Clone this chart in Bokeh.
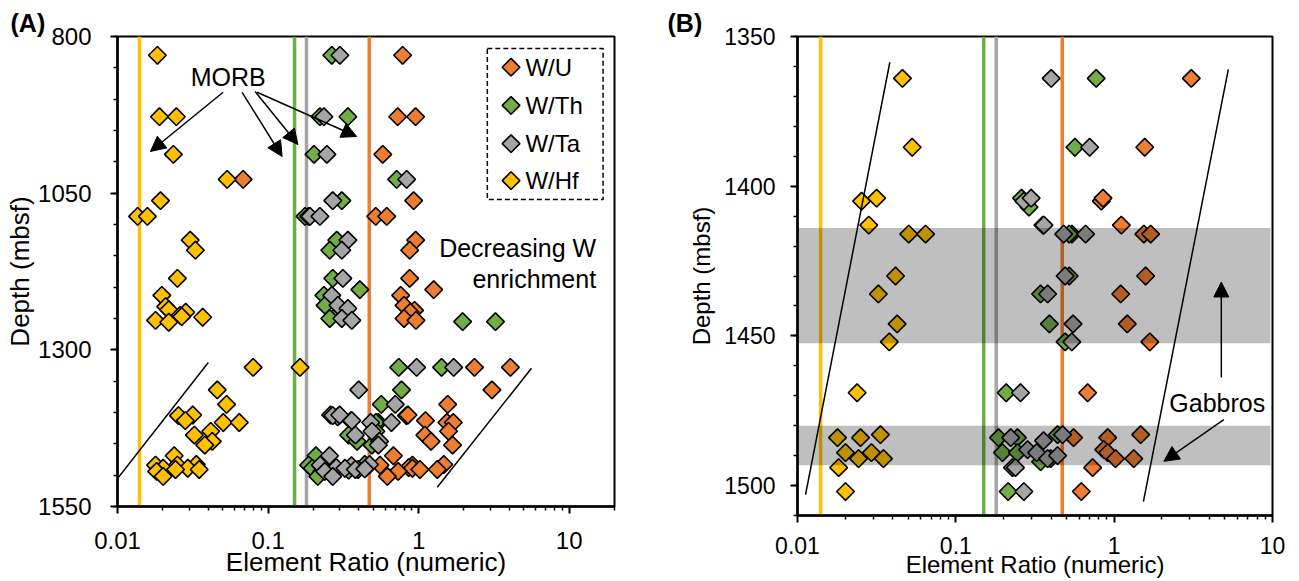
import math
from bokeh.plotting import figure
from bokeh.models import (Range1d, FixedTicker, CustomJSTickFormatter, Span, BoxAnnotation,
                          Label, Arrow, NormalHead, ColumnDataSource, Title)
from bokeh.layouts import row
from bokeh.embed import file_html
from bokeh.resources import INLINE

# ---------------- data ----------------
series_names = ["W/U", "W/Th", "W/Ta", "W/Hf"]

u_depth = [830, 928, 928, 988, 1028, 1062, 1087, 1087, 1125, 1141, 1186, 1204, 1213, 1229, 1237, 1240,
           1250, 1253, 1328, 1328, 1364, 1387, 1405, 1404, 1413, 1416, 1416, 1430, 1436, 1446, 1452,
           1469, 1484, 1484, 1483, 1488, 1489, 1491, 1491, 1494, 1502]
u_ratio = [0.783, 0.726, 0.955, 0.578, 0.0683, 0.927, 0.519, 0.614, 0.955, 0.872, 0.872, 1.26, 0.76, 0.80,
           0.94, 0.88, 0.80, 0.96, 2.35, 4.07, 3.07, 1.56, 0.83, 0.85, 1.11, 1.54, 1.70, 1.58, 1.10, 1.21,
           1.68, 0.68, 0.554, 0.910, 1.47, 0.859, 0.910, 1.02, 1.33, 0.731, 0.62]

th_depth = [830, 928, 928, 988, 1028, 1062, 1087, 1087, 1125, 1141, 1186, 1204, 1213, 1229, 1240, 1250,
            1255, 1255, 1328, 1328, 1364, 1387, 1407, 1404, 1413, 1416, 1416, 1430, 1436, 1446, 1452,
            1469, 1484, 1484, 1483, 1489, 1489, 1492, 1491, 1494, 1502]
th_ratio = [0.265, 0.221, 0.339, 0.202, 0.715, 0.309, 0.176, 0.186, 0.286, 0.257, 0.269, 0.407, 0.235,
            0.239, 0.30, 0.257, 1.96, 3.24, 0.738, 1.42, 0.77, 0.565, 0.29, 0.26, 0.355, 0.54, 0.52, 0.52,
            0.343, 0.39, 0.49, 0.208, 0.186, 0.245, 0.439, 0.197, 0.245, 0.343, 0.397, 0.228, 0.214]

ta_depth = [830, 928, 988, 1028, 1062, 1087, 1087, 1125, 1141, 1186, 1213, 1229, 1234, 1250, 1253, 1328,
            1328, 1364, 1387, 1405, 1404, 1413, 1416, 1416, 1430, 1436, 1446, 1452, 1469, 1484, 1485,
            1483, 1488, 1489, 1491, 1490, 1494, 1502]
ta_ratio = [0.300, 0.235, 0.246, 0.833, 0.269, 0.190, 0.221, 0.339, 0.309, 0.314, 0.265, 0.291, 0.339,
            0.309, 0.36, 0.970, 1.71, 0.40, 0.70, 0.269, 0.299, 0.36, 0.48, 0.66, 0.49, 0.38, 0.55, 0.54,
            0.256, 0.222, 0.358, 0.472, 0.284, 0.324, 0.380, 0.439, 0.238, 0.269]

hf_depth = [830, 928, 928, 988, 1028, 1062, 1087, 1087, 1125, 1141, 1186, 1213, 1231, 1236, 1240, 1245,
            1247, 1248, 1253, 1256, 1328, 1328, 1364, 1387, 1405, 1404, 1413, 1416, 1416, 1430, 1436,
            1446, 1452, 1469, 1484, 1484, 1483, 1489, 1489, 1491, 1491, 1494, 1502]
hf_ratio = [0.0184, 0.0190, 0.0246, 0.0235, 0.0535, 0.0193, 0.0136, 0.0158, 0.0304, 0.0329, 0.0250,
            0.0197, 0.0209, 0.0219, 0.0284, 0.0261, 0.0267, 0.0368, 0.0179, 0.0219, 0.0796, 0.163,
            0.046, 0.053, 0.0254, 0.0316, 0.0282, 0.0504, 0.0644, 0.0416, 0.0324, 0.0426, 0.038, 0.0238,
            0.0179, 0.0250, 0.0334, 0.0201, 0.0293, 0.0243, 0.0349, 0.0182, 0.0201]

# MORB reference ratios (vertical lines)
morb_ratio = [0.47, 0.15, 0.18, 0.014]

# gabbro depth intervals (panel B)
gabbro_top = [1414, 1480]
gabbro_bottom = [1452.5, 1493.2]

# ---------------- styling ----------------
FONT = "Liberation Sans"
colors = ["#ED7D31", "#70AD47", "#A5A5A5", "#FFC000"]
series = [(u_depth, u_ratio), (th_depth, th_ratio), (ta_depth, ta_ratio), (hf_depth, hf_ratio)]
MARKER = dict(marker="square", size=12.5, angle=math.pi / 4, line_color="black", line_width=1.6)


def minor_log(lo, hi):
    out = []
    for e in range(-3, 3):
        for k in range(2, 10):
            v = k * 10 ** e
            if lo < v <= hi * 1.0001:
                out.append(round(v, 6))
    return out


def make_panel(xmax, ymin, ymax, major_y, minor_y, fw, fh, bl, br, bt, bb,
               tick_fs, lab_fs, tick_std, ylab_std, xlab_std, xtick_std, tag, tag_offset):
    p = figure(frame_width=fw, frame_height=fh, x_axis_type="log", x_range=Range1d(0.01, xmax),
               y_range=Range1d(ymax, ymin), output_backend="svg", toolbar_location=None,
               min_border_left=bl, min_border_right=br, min_border_top=bt, min_border_bottom=bb,
               title=None)
    p.xgrid.visible = False
    p.ygrid.visible = False
    p.outline_line_color = "black"
    p.outline_line_width = 2
    p.outline_line_alpha = 1
    p.background_fill_color = "white"
    p.border_fill_color = "white"

    p.add_layout(Title(text=tag, align="left", offset=tag_offset, text_font=FONT,
                       text_font_style="bold", text_font_size="25px", text_color="black",
                       standoff=0, vertical_align="bottom"), "above")

    p.xaxis.ticker = FixedTicker(ticks=[0.01, 0.1, 1, 10], minor_ticks=minor_log(0.01, xmax))
    p.xaxis.formatter = CustomJSTickFormatter(code="return String(tick)")
    p.yaxis.ticker = FixedTicker(ticks=major_y, minor_ticks=minor_y)

    for ax in (p.xaxis[0], p.yaxis[0]):
        ax.axis_line_color = "black"
        ax.axis_line_width = 2.5
        ax.major_tick_in = 0
        ax.major_tick_out = 7
        ax.minor_tick_in = 0
        ax.minor_tick_out = 4
        ax.major_tick_line_width = 2
        ax.minor_tick_line_width = 1.5
        ax.major_tick_line_color = "black"
        ax.minor_tick_line_color = "black"
        ax.major_label_text_font = FONT
        ax.major_label_text_font_size = tick_fs
        ax.major_label_text_color = "black"
        ax.axis_label_text_font = FONT
        ax.axis_label_text_font_size = lab_fs
        ax.axis_label_text_font_style = "normal"
        ax.axis_label_text_color = "black"
    p.xaxis.major_label_standoff = xtick_std
    p.yaxis.major_label_standoff = tick_std
    p.xaxis.axis_label = "Element Ratio (numeric)"
    p.yaxis.axis_label = "Depth (mbsf)"
    p.xaxis.axis_label_standoff = xlab_std
    p.yaxis.axis_label_standoff = ylab_std

    for v, c in zip(morb_ratio, colors):
        p.add_layout(Span(location=v, dimension="height", line_color=c, line_width=3.5, level="underlay"))

    for (d, r), c in zip(series, colors):
        src = ColumnDataSource(dict(x=r, y=d))
        p.scatter("x", "y", source=src, fill_color=c, **MARKER)
    return p


def label(p, x, y, text, align="center", size="25px"):
    p.add_layout(Label(x=x, y=y, text=text, text_font=FONT, text_font_size=size, text_color="black",
                       text_baseline="middle", text_align=align))


def arrow(p, xs, ys, xe, ye):
    p.add_layout(Arrow(end=NormalHead(size=15, fill_color="black", line_color="black", line_width=1),
                       x_start=xs, y_start=ys, x_end=xe, y_end=ye, line_width=1.5, line_color="black"))


# ---------------- panel A ----------------
pA = make_panel(20, 800, 1550, [800, 1050, 1300, 1550], list(range(800, 1551, 50)),
                497, 470, 117, 46, 36, 75, "24px", "26px", 19, 0, -5, 18, "(A)", -107)

# legend (dashed frame, keys, labels) placed in the upper-right corner of panel A
leg_left, leg_right, leg_top, leg_bottom = 2.86, 16.8, 819, 1060
leg_key_x, leg_text_x = 4.11, 5.12
leg_rows = [849, 910, 971, 1030]
pA.add_layout(BoxAnnotation(left=leg_left, right=leg_right, top=leg_top, bottom=leg_bottom,
                            fill_alpha=0, line_color="black", line_alpha=1, line_width=1.5,
                            line_dash="5 3"))
pA.scatter([leg_key_x] * 4, leg_rows, fill_color=colors, **MARKER)
for name, yy in zip(series_names, leg_rows):
    label(pA, leg_text_x, yy, name, align="left", size="24px")

label(pA, 0.0543, 865.4, "MORB")
for xs, ys, xe, ye in [(0.0503, 889, 0.01655, 983.5), (0.0672, 889, 0.124, 991.5),
                       (0.082, 887.8, 0.158, 972.4), (0.0845, 889, 0.388, 959.6)]:
    arrow(pA, xs, ys, xe, ye)
label(pA, 15.1, 1136.8, "Decreasing W", align="right")
label(pA, 15.1, 1186.3, "enrichment", align="right")
pA.line([0.01, 0.0401], [1505.4, 1320.3], line_color="black", line_width=1.5)
pA.line([1.33, 5.62], [1519.3, 1329.4], line_color="black", line_width=1.5)

# ---------------- panel B ----------------
pB = make_panel(10, 1350, 1510, [1350, 1400, 1450, 1500], list(range(1350, 1511, 10)),
                475, 479, 137, 27, 36, 66, "23px", "24px", 15, 6, -6, 14, "(B)", -130)

for t, b in zip(gabbro_top, gabbro_bottom):
    pB.add_layout(BoxAnnotation(top=t, bottom=b, right=9.7, fill_color="black", fill_alpha=0.25,
                                line_alpha=0))
pB.line([0.0383, 0.01124], [1358.6, 1503], line_color="black", line_width=1.5)
pB.line([5.26, 1.53], [1361, 1505.4], line_color="black", line_width=1.5)
arrow(pB, 4.75, 1463.9, 4.75, 1432)
label(pB, 4.48, 1472.4, "Gabbros")
arrow(pB, 4.93, 1478, 2.06, 1491.9)

layout = row(pA, pB)
open("out.html", "w").write(file_html(layout, INLINE))
